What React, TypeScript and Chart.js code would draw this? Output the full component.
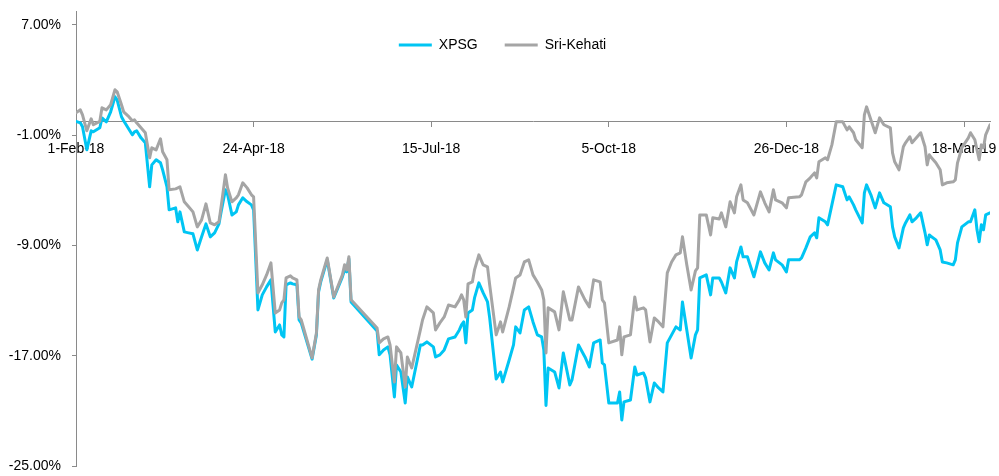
import { useEffect, useRef } from 'react';
import { Chart, registerables } from 'chart.js';

Chart.register(...registerables);

// Day offsets from 1-Feb-18
const days = [
  0, 2, 3, 5, 7, 8, 11, 12, 14, 16,
  18, 19, 21, 22, 24, 26, 27, 28, 30, 32,
  34, 35, 37, 39, 40, 42, 43, 46, 47, 48,
  50, 52, 54, 56, 58, 60, 62, 64, 66, 67,
  69, 70, 72, 74, 75, 77, 79, 81, 82, 84,
  86, 88, 90, 92, 94, 95, 96, 97, 99, 100,
  102, 103, 104, 109, 111, 112, 113, 116, 119, 123,
  124, 125, 126, 127, 139, 140, 142, 144, 145, 147,
  148, 150, 152, 153, 155, 159, 160, 162, 165, 166,
  168, 170, 172, 175, 177, 178, 179, 180, 181, 183,
  184, 186, 188, 190, 191, 194, 196, 197, 200, 202,
  203, 205, 207, 209, 211, 213, 215, 216, 217, 218,
  221, 223, 225, 228, 229, 232, 235, 237, 239, 242,
  243, 244, 246, 250, 251, 252, 253, 256, 258, 259,
  262, 263, 265, 267, 269, 271, 273, 275, 277, 279,
  280, 282, 284, 286, 287, 288, 291, 293, 294, 297,
  298, 300, 302, 304, 305, 307, 308, 310, 313, 316,
  318, 320, 322, 323, 326, 328, 329, 334, 335, 337,
  339, 341, 342, 343, 346, 347, 349, 351, 354, 356,
  357, 359, 360, 363, 364, 365, 367, 369, 371, 373,
  376, 377, 378, 380, 382, 383, 385, 386, 388, 390,
  392, 393, 394, 395, 397, 399, 400, 402, 405, 406,
  407, 409, 412, 413, 415, 416, 417, 418, 419, 420,
  422,
];

const xpsg = [
  0, -0.11, -0.40, -2.07, -0.69, -0.76, -0.47, 0.25, -0.04, 0.69,
  1.78, 1.56, 0.33, 0.04, -0.47, -0.98, -0.76, -0.69, -1.20, -1.56,
  -4.75, -3.16, -2.79, -3.01, -3.52, -4.75, -6.42, -6.28, -7.29, -6.57,
  -8.02, -8.09, -8.16, -9.33, -8.38, -7.44, -8.38, -8.09, -7.44, -6.57,
  -4.97, -5.33, -6.79, -6.57, -6.06, -5.55, -5.84, -6.06, -6.42, -13.68,
  -12.59, -12.01, -11.50, -15.28, -14.77, -15.49, -15.64, -11.86, -11.72, -11.79,
  -11.86, -14.41, -14.63, -17.25, -15.49, -12.37, -11.65, -10.05, -12.81, -11.28,
  -10.78, -10.92, -9.98, -13.10, -15.20, -16.94, -16.58, -16.36, -16.94, -19.99,
  -17.67, -18.18, -20.43, -18.54, -19.27, -16.22, -16.22, -16.00, -16.36, -17.09,
  -16.94, -16.58, -15.78, -15.64, -15.13, -14.77, -14.55, -16.07, -13.90, -13.68,
  -12.81, -11.72, -12.45, -13.10, -14.26, -18.69, -18.18, -18.90, -17.31, -16.22,
  -14.91, -15.35, -13.68, -13.46, -14.55, -15.49, -15.64, -16.58, -20.61, -17.89,
  -18.18, -19.34, -16.80, -19.12, -18.76, -16.22, -17.09, -17.82, -16.07, -15.86,
  -17.53, -17.67, -20.43, -20.43, -19.63, -21.66, -20.35, -20.21, -17.82, -18.40,
  -18.25, -18.61, -20.35, -18.98, -19.34, -19.63, -16.07, -15.49, -14.91, -15.13,
  -13.10, -15.13, -17.16, -15.49, -15.13, -11.36, -11.14, -12.59, -11.36, -11.36,
  -11.65, -12.45, -10.63, -11.36, -10.20, -9.11, -9.83, -9.83, -11.28, -9.47,
  -10.27, -10.78, -9.54, -10.05, -10.41, -10.92, -10.05, -10.05, -9.91, -9.18,
  -8.38, -8.09, -8.45, -7.00, -7.29, -7.51, -6.06, -4.61, -4.75, -5.70,
  -5.48, -6.06, -6.42, -7.37, -5.19, -4.61, -5.33, -6.28, -5.19, -5.91,
  -6.20, -7.66, -8.38, -9.18, -7.73, -7.37, -6.79, -7.29, -7.00, -6.64,
  -8.09, -8.96, -8.24, -8.38, -8.60, -9.33, -10.20, -10.27, -10.41, -10.05,
  -8.82, -7.66, -7.29, -7.29, -6.42, -7.87, -8.74, -7.51, -7.87, -6.79,
  -6.64,
];

const sriKehati = [
  0.62, 0.83, 0.47, -0.69, 0.18, -0.25, 0, 0.98, 0.83, 1.20,
  2.29, 2.14, 1.20, 0.69, 0.40, 0.04, 0.11, -0.11, -0.47, -0.83,
  -2.65, -1.92, -2.07, -1.27, -2.21, -2.79, -4.97, -4.90, -4.83, -4.75,
  -5.84, -6.20, -6.57, -7.66, -7.15, -5.99, -7.37, -7.51, -7.29, -6.20,
  -3.88, -4.83, -5.84, -5.55, -5.33, -4.46, -4.83, -5.33, -5.48, -12.45,
  -11.86, -11.14, -10.27, -13.90, -13.68, -13.17, -12.95, -11.36, -11.21, -11.36,
  -11.50, -14.19, -14.41, -17.16, -15.35, -12.23, -11.50, -9.91, -12.74, -11.14,
  -10.41, -10.78, -9.83, -12.95, -14.99, -16.07, -15.78, -15.64, -16.22, -18.91,
  -16.36, -16.80, -19.27, -17.09, -17.89, -15.13, -14.41, -13.46, -13.90, -15.13,
  -14.62, -14.19, -13.32, -13.46, -12.95, -12.59, -12.95, -14.19, -11.79, -11.65,
  -10.78, -9.69, -10.41, -10.56, -11.86, -15.49, -14.55, -15.28, -13.46, -12.08,
  -11.36, -11.14, -10.20, -10.05, -11.14, -11.65, -12.23, -12.95, -16.80, -13.53,
  -13.82, -15.13, -12.37, -14.41, -14.41, -12.01, -12.95, -13.46, -11.50, -11.65,
  -12.95, -13.17, -16.07, -15.86, -14.91, -16.94, -15.64, -15.49, -12.74, -13.68,
  -13.53, -13.68, -16.00, -14.26, -14.55, -14.91, -10.99, -10.20, -9.69, -9.54,
  -8.38, -10.41, -12.23, -10.85, -10.63, -6.79, -6.79, -8.24, -7.00, -7.08,
  -6.64, -7.66, -5.84, -6.64, -5.48, -4.61, -5.70, -5.91, -6.79, -5.12,
  -5.91, -6.57, -4.97, -5.70, -5.91, -6.28, -5.55, -5.48, -5.33, -4.39,
  -4.10, -3.74, -4.10, -2.94, -2.65, -2.79, -1.71, -0.04, -0.04, -0.62,
  -0.40, -0.83, -1.34, -1.92, 0.47, 1.05, 0.11, -0.83, 0.25, -0.25,
  -0.47, -2.29, -2.94, -3.52, -1.85, -1.56, -1.12, -1.56, -1.20, -0.83,
  -1.85, -3.16, -2.43, -2.65, -3.01, -3.52, -4.61, -4.46, -4.39, -4.25,
  -3.01, -1.92, -1.20, -0.83, -1.34, -2.07, -2.79, -1.71, -1.92, -0.98,
  -0.25,
];

const seriesNames = ['XPSG', 'Sri-Kehati'];
const xTickDays = [0, 82, 164, 246, 328, 410];
const xTickLabels = ['1-Feb-18', '24-Apr-18', '15-Jul-18', '5-Oct-18', '26-Dec-18', '18-Mar-19'];
const yTicks = [-25, -17, -9, -1, 7];

const FONT = "'Liberation Sans', Arial, sans-serif";
const AXIS = '#8a8a8a';
const CYAN = '#00C5F3';
const GRAY = '#A5A5A5';
const LEGEND_PAD = 27;
const LEGEND_FONT = 14;

export default function App() {
  const ref = useRef<HTMLCanvasElement>(null);

  useEffect(() => {
    document.body.style.margin = '0';
    const canvas = ref.current;
    if (!canvas) return;

    const legendPlacer = {
      id: 'legendPlacer',
      afterLayout(chart: any) {
        const l = chart.legend;
        if (!l) return;
        const h = l.bottom - l.top;
        const newTop = 45 - LEGEND_PAD - LEGEND_FONT / 2;
        l.top = newTop;
        l.bottom = newTop + h;
        const dx = 516 - (l.left + LEGEND_PAD + l.right) / 2;
        l.left += dx;
        l.right += dx;
      },
    };

    const chart = new Chart(canvas, {
      type: 'line',
      data: {
        datasets: [
          {
            label: seriesNames[0],
            data: days.map((d, i) => ({ x: d, y: xpsg[i] })),
            borderColor: CYAN,
            backgroundColor: CYAN,
            borderWidth: 3,
            pointRadius: 0,
            tension: 0,
            borderJoinStyle: 'round',
            borderCapStyle: 'round',
            order: 1,
          },
          {
            label: seriesNames[1],
            data: days.map((d, i) => ({ x: d, y: sriKehati[i] })),
            borderColor: GRAY,
            backgroundColor: GRAY,
            borderWidth: 3,
            pointRadius: 0,
            tension: 0,
            borderJoinStyle: 'round',
            borderCapStyle: 'round',
            order: 0,
          },
        ],
      },
      options: {
        responsive: false,
        animation: false,
        devicePixelRatio: 1,
        layout: { padding: { top: 11 - (LEGEND_PAD * 2 + LEGEND_FONT), right: 9, bottom: 0, left: 0 } },
        scales: {
          x: {
            type: 'linear',
            min: 0,
            max: 422,
            position: { y: 0 } as any,
            afterBuildTicks: (s: any) => {
              s.ticks = xTickDays.map((v) => ({ value: v }));
            },
            afterFit: (s: any) => {
              s.paddingLeft = 0;
              s.paddingRight = 0;
            },
            ticks: {
              autoSkip: false,
              maxRotation: 0,
              minRotation: 0,
              padding: 14,
              color: '#000',
              font: { family: FONT, size: 14 },
              callback: (_v: any, i: number) => xTickLabels[i],
            },
            grid: { drawOnChartArea: false, drawTicks: true, tickLength: 5, color: AXIS },
            border: { display: true, color: AXIS, width: 1 },
          },
          y: {
            type: 'linear',
            min: -25,
            max: 8,
            afterBuildTicks: (s: any) => {
              s.ticks = yTicks.map((v) => ({ value: v }));
            },
            afterFit: (s: any) => {
              s.width = 76;
              s.paddingTop = 11;
              s.paddingBottom = 10;
            },
            ticks: {
              padding: 11,
              color: '#000',
              font: { family: FONT, size: 14 },
              callback: (v: any) => Number(v).toFixed(2) + '%',
            },
            grid: { drawOnChartArea: false, drawTicks: true, tickLength: 4, color: AXIS },
            border: { display: true, color: AXIS, width: 1 },
          },
        },
        plugins: {
          legend: {
            display: true,
            position: 'top',
            align: 'center',
            labels: {
              usePointStyle: true,
              pointStyle: 'line',
              pointStyleWidth: 33,
              padding: LEGEND_PAD,
              color: '#000',
              font: { family: FONT, size: LEGEND_FONT },
              sort: (a: any, b: any) => a.datasetIndex - b.datasetIndex,
            },
          },
          tooltip: { enabled: false },
        },
      } as any,
      plugins: [legendPlacer],
    });

    return () => chart.destroy();
  }, []);

  return (
    <div style={{ width: 999, height: 476 }}>
      <canvas ref={ref} width={999} height={476} style={{ display: 'block' }} />
    </div>
  );
}
